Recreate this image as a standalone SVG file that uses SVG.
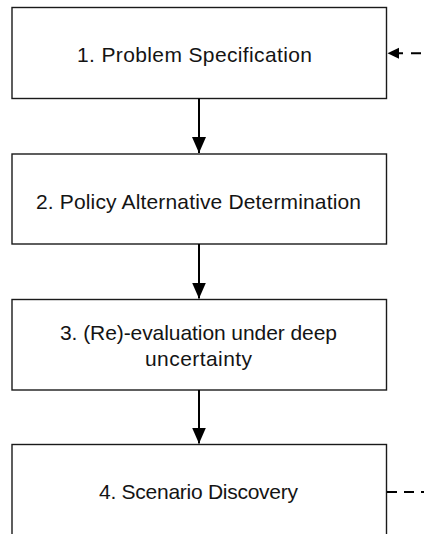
<svg xmlns="http://www.w3.org/2000/svg" width="424" height="534" viewBox="0 0 424 534">
  <style>
    .box { fill: #ffffff; stroke: #1a1a1a; stroke-width: 1.4; }
    .label { font-family: "Liberation Sans", Arial, sans-serif; font-size: 21px; fill: #141414; }
    .flow { stroke: #000000; stroke-width: 2; fill: none; }
    .feedback { stroke: #000000; stroke-width: 2; fill: none; stroke-dasharray: 10 7; }
    .head { fill: #000000; }
  </style>
  <defs>
    <marker id="arrow-down" markerUnits="userSpaceOnUse" markerWidth="14" markerHeight="16" refX="16" refY="7" orient="auto">
      <path class="head" d="M0,0 L16,7 L0,14 Z"/>
    </marker>
  </defs>

  <rect width="424" height="534" fill="#ffffff"/>

  <g id="node-1">
    <rect class="box" x="12" y="7.5" width="374.5" height="91"/>
    <text class="label" x="77" y="62" textLength="235" lengthAdjust="spacing">1. Problem Specification</text>
  </g>

  <g id="node-2">
    <rect class="box" x="12" y="154" width="374.5" height="90"/>
    <text class="label" x="36" y="209" textLength="325" lengthAdjust="spacing">2. Policy Alternative Determination</text>
  </g>

  <g id="node-3">
    <rect class="box" x="12" y="299.5" width="374.5" height="90.5"/>
    <text class="label" x="60" y="340" textLength="277" lengthAdjust="spacing">3. (Re)-evaluation under deep</text>
    <text class="label" x="145" y="366" textLength="107" lengthAdjust="spacing">uncertainty</text>
  </g>

  <g id="node-4">
    <rect class="box" x="12" y="444.5" width="374.5" height="120"/>
    <text class="label" x="99" y="499" textLength="199" lengthAdjust="spacing">4. Scenario Discovery</text>
  </g>

  <g id="connectors">
    <path class="flow" d="M199,98.5 V153" marker-end="url(#arrow-down)"/>
    <path class="flow" d="M199,244 V298.5" marker-end="url(#arrow-down)"/>
    <path class="flow" d="M199,390 V443.5" marker-end="url(#arrow-down)"/>
    <!-- feedback loop: leaves step 4 on the right, returns into step 1 -->
    <path class="feedback" d="M387,492 H424"/>
    <path class="feedback" d="M421,53.3 H397" style="stroke-dasharray: 10 8"/>
    <path class="head" d="M387.5,53.3 L399,47.8 L399,58.8 Z"/>
  </g>
</svg>
